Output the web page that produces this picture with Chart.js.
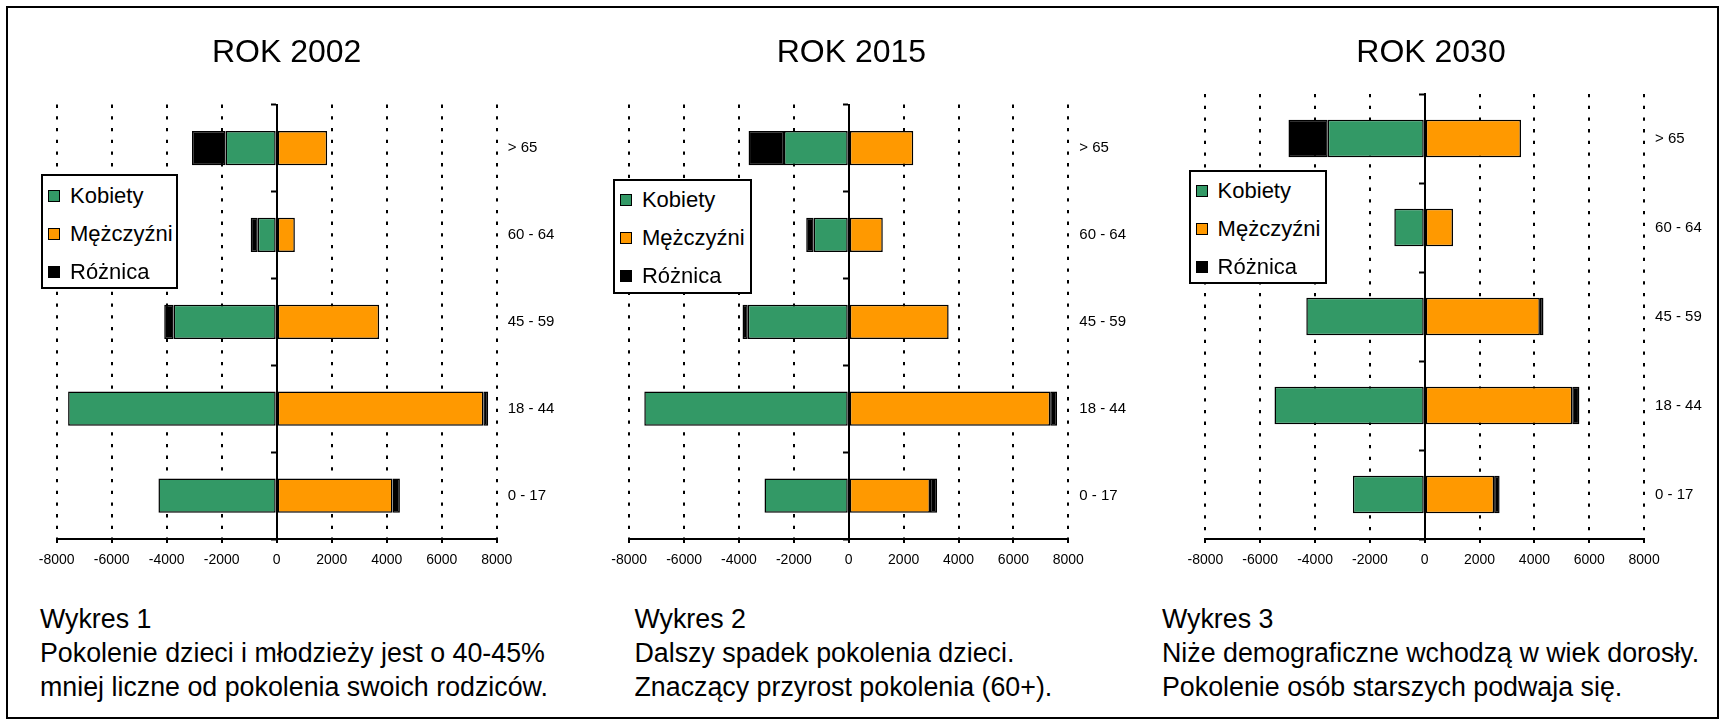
<!DOCTYPE html>
<html lang="pl">
<head>
<meta charset="utf-8">
<title>Piramida wieku 2002 / 2015 / 2030</title>
<script src="https://cdn.jsdelivr.net/npm/chart.js@4/dist/chart.umd.min.js"></script>
<style>
  body { margin: 0; background: #fff; font-family: "Liberation Sans", Arial, sans-serif; color: #000; }
  #page { position: relative; width: 1721px; height: 721px; overflow: hidden; background: #fff; }
  #frame { position: absolute; left: 6px; top: 6px; width: 1713px; height: 713px; box-sizing: border-box; border: 2px solid #000; }
  canvas { position: absolute; top: 0; }
  .legend { position: absolute; box-sizing: border-box; border: 2px solid #000; background: #fff; font-size: 22px; }
  .legend .row { position: absolute; left: 0; right: 0; height: 38px; line-height: 38px; white-space: nowrap; }
  .legend .sw { position: absolute; left: 5px; top: 13px; width: 12px; height: 12px; box-sizing: border-box; border: 1px solid #000; }
  .legend .lbl { position: absolute; left: 27px; top: 0; }
  .note { position: absolute; top: 602px; font-size: 26.8px; line-height: 34px; white-space: nowrap; }
</style>
</head>
<body>
<div id="page">
  <div id="frame"></div>
  <canvas id="c0" width="556" height="580"></canvas>
  <canvas id="c1" width="570" height="580"></canvas>
  <canvas id="c2" width="562" height="580"></canvas>
</div>
<script>
// categories, top to bottom
const ageGroups = ["> 65", "60 - 64", "45 - 59", "18 - 44", "0 - 17"];
const xTicks = [-8000, -6000, -4000, -2000, 0, 2000, 4000, 6000, 8000];
const seriesNames = ["Kobiety", "Mężczyźni", "Różnica"];
const seriesColors = ["#339966", "#ff9900", "#000000"];
const years = ["ROK 2002", "ROK 2015", "ROK 2030"];

// women drawn to the left
const women2002 = [-1860, -690, -3750, -7585, -4300];
const men2002 = [1835, 660, 3725, 7515, 4210];
const diff2002 = [-1220, -255, -340, 175, 270];

const women2015 = [-2360, -1280, -3680, -7450, -3070];
const men2015 = [2350, 1240, 3640, 7340, 2960];
const diff2015 = [-1290, -270, -190, 250, 260];

const women2030 = [-3540, -1110, -4320, -5480, -2620];
const men2030 = [3510, 1030, 4200, 5380, 2530];
const diff2030 = [-1430, null, 130, 260, 200];

const notes = [
  ["Wykres 1", "Pokolenie dzieci i młodzieży jest o 40-45%", "mniej liczne od pokolenia swoich rodziców."],
  ["Wykres 2", "Dalszy spadek pokolenia dzieci.", "Znaczący przyrost pokolenia (60+)."],
  ["Wykres 3", "Niże demograficzne wchodzą w wiek dorosły.", "Pokolenie osób starszych podwaja się."],
];

const yearSeries = [
  [women2002, men2002, diff2002],
  [women2015, men2015, diff2015],
  [women2030, men2030, diff2030],
];

// page placement of each panel (pixels)
const panels = [
  { canvasLeft: 8, canvasWidth: 556, areaLeft: 56.7, areaRight: 496.7, areaTop: 104.6, titleX: 286.7, barPct: 0.395, legendBox: [41, 174.3, 137.3, 114.7], noteLeft: 40 },
  { canvasLeft: 566, canvasWidth: 570, areaLeft: 629.2, areaRight: 1068.3, areaTop: 104.6, titleX: 851.4, barPct: 0.395, legendBox: [612.9, 178.6, 138.8, 115], noteLeft: 634.5 },
  { canvasLeft: 1150, canvasWidth: 562, areaLeft: 1205.4, areaRight: 1644.1, areaTop: 94, titleX: 1431, barPct: 0.42, legendBox: [1188.6, 169.6, 138.8, 114.4], noteLeft: 1162 },
];

const CANVAS_H = 580;
const AREA_BOTTOM = 539;
const TITLE_SIZE = 32;
const TITLE_Y = 52.9;
const LABEL_W = 64;

Chart.defaults.font.family = '"Liberation Sans", Arial, sans-serif';
Chart.defaults.color = "#000";

const page = document.getElementById("page");

panels.forEach((p, i) => {
  const canvas = document.getElementById("c" + i);
  canvas.style.left = p.canvasLeft + "px";

  // title is centred between padding edges, so a blank left box shifts the plot
  const titleRight = p.areaRight + LABEL_W;
  const titleLeft = 2 * p.titleX - titleRight;
  const padLeft = titleLeft - p.canvasLeft;
  const padRight = p.canvasLeft + p.canvasWidth - titleRight;
  const leftGap = p.areaLeft - titleLeft;
  const titleLine = TITLE_SIZE * 1.2;
  const titlePadTop = TITLE_Y - titleLine / 2;
  const titlePadBottom = p.areaTop - titlePadTop - titleLine;

  new Chart(canvas, {
    type: "bar",
    data: {
      labels: ageGroups,
      datasets: yearSeries[i].map((values, k) => ({
        label: seriesNames[k],
        data: values,
        backgroundColor: seriesColors[k],
        borderColor: "#000",
        borderWidth: 1.5,
        borderSkipped: false,
        barPercentage: p.barPct,
        categoryPercentage: 1,
        xAxisID: "x",
        yAxisID: "y",
      })),
    },
    options: {
      indexAxis: "y",
      responsive: false,
      animation: false,
      layout: { padding: { left: padLeft, right: padRight, top: 0, bottom: 0 } },
      plugins: {
        legend: { display: false },
        tooltip: { enabled: false },
        title: {
          display: true,
          text: years[i],
          color: "#000",
          font: { size: TITLE_SIZE, weight: "normal" },
          padding: { top: titlePadTop, bottom: titlePadBottom },
        },
      },
      scales: {
        x: {
          type: "linear",
          stacked: true,
          min: xTicks[0],
          max: xTicks[xTicks.length - 1],
          afterBuildTicks: (scale) => {
            scale.ticks = xTicks.map((v) => ({ value: v }));
          },
          afterFit: (scale) => {
            scale.height = CANVAS_H - AREA_BOTTOM;
          },
          ticks: {
            callback: (v) => String(v),
            font: { size: 14 },
            padding: 9,
            maxRotation: 0,
          },
          grid: {
            color: (ctx) => (ctx.tick && ctx.tick.value === 0 ? "rgba(0,0,0,0)" : "#000"),
            lineWidth: 2,
            tickColor: "#000",
            tickLength: 4,
            tickWidth: 2,
          },
          border: {
            display: true,
            color: "#000",
            width: 2,
            dash: (ctx) => (ctx.tick ? [3.3, 8.4] : []),
          },
        },
        y: {
          type: "category",
          position: "right",
          stacked: true,
          offset: true,
          afterFit: (scale) => {
            scale.width = LABEL_W;
          },
          ticks: { font: { size: 15 }, padding: 11 },
          grid: { display: false, drawTicks: false },
          border: { display: false },
        },
        yLeft: {
          type: "category",
          position: "left",
          afterFit: (scale) => {
            scale.width = leftGap;
          },
          ticks: { display: false },
          grid: { display: false, drawTicks: false },
          border: { display: false },
        },
        y0: {
          type: "category",
          position: { x: 0 },
          offset: true,
          ticks: { display: false },
          grid: {
            offset: true,
            drawOnChartArea: false,
            drawTicks: true,
            tickLength: 5,
            tickWidth: 2,
            tickColor: "#000",
          },
          border: { display: true, color: "#000", width: 2 },
        },
      },
    },
  });

  // legend box inside the plot
  const [lx, ly, lw, lh] = p.legendBox;
  const legend = document.createElement("div");
  legend.className = "legend";
  Object.assign(legend.style, { left: lx + "px", top: ly + "px", width: lw + "px", height: lh + "px" });
  seriesNames.forEach((name, k) => {
    const row = document.createElement("div");
    row.className = "row";
    row.style.top = 0.4 + k * 38.2 + "px";
    const sw = document.createElement("span");
    sw.className = "sw";
    sw.style.background = seriesColors[k];
    const lbl = document.createElement("span");
    lbl.className = "lbl";
    lbl.textContent = name;
    row.appendChild(sw);
    row.appendChild(lbl);
    legend.appendChild(row);
  });
  page.appendChild(legend);

  // caption under the chart
  const note = document.createElement("div");
  note.className = "note";
  note.style.left = p.noteLeft + "px";
  notes[i].forEach((line, n) => {
    if (n) note.appendChild(document.createElement("br"));
    note.appendChild(document.createTextNode(line));
  });
  page.appendChild(note);
});
</script>
</body>
</html>
